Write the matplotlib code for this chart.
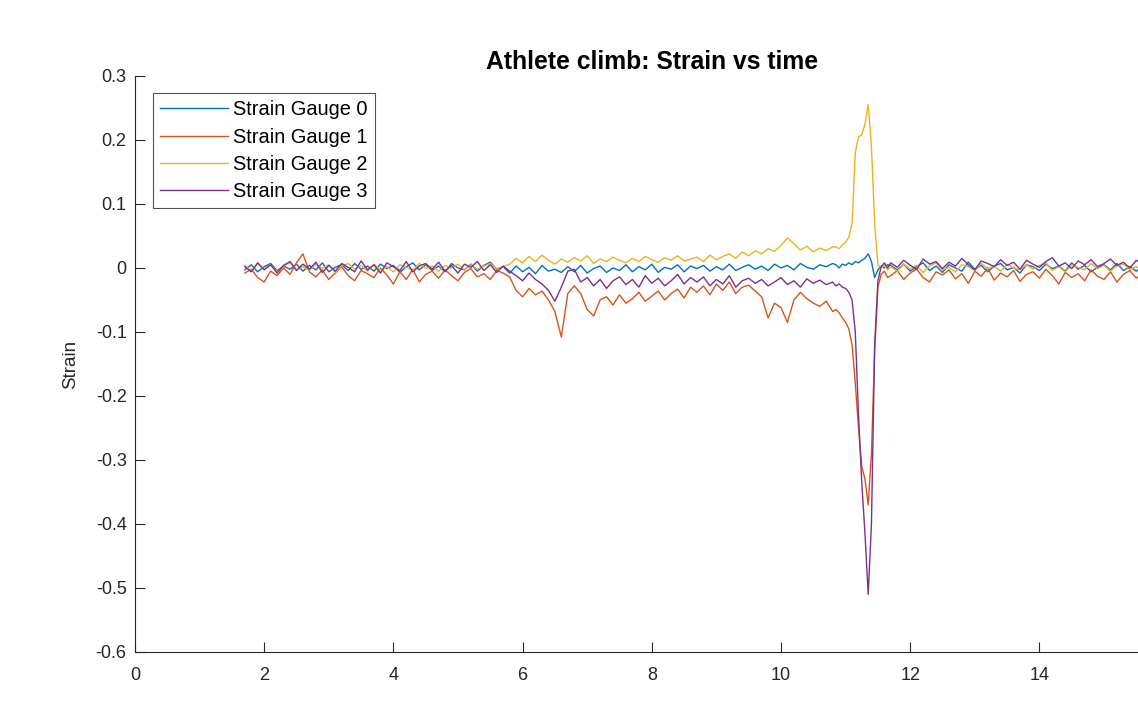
import numpy as np
import matplotlib.pyplot as plt

# time grid: 0.1 s steps, finer (0.05 s) around the big spike
t = np.concatenate([np.arange(17, 109) / 10,
                    np.arange(217, 234) / 20,
                    np.arange(117, 157) / 10])

# strain values, in units of 1e-3
gauge0 = [
    -3, 5, -6, 2, 7, -4, 3, -2, 6, -5,
    4, -3, 8, -6, 1, 5, -4, 7, -2, 3,
    -5, 6, -1, 4, -7, 2, 8, -3, 5, -4,
    3, -6, 7, 0, -3, 6, -5, 4, 9, -2,
    2, -8, 3, -6, 1, -9, 4, -5, -2, -7,
    2, -6, 4, -8, -1, 3, -7, 0, -4, 5,
    -6, 2, -3, 6, -7, 1, -2, 5, -6, 3,
    -1, 4, -5, 2, -3, 6, -4, 1, 5, -2,
    3, -4, 6, 0, 4, -3, 7, 1, -2, 5,
    2, 7,
    5, 0, 6, 4, 8, 5, 10, 8, 12, 15, 22, 10, -15, -3, 3, 0, 5,
    4, -3, 6, -5, 2, 8, -4, 3, -7, 5, 0, -5, 9, -2, 4, -6, 3, 7, -3, 1,
    -8, 5, 2, -4, 6, -1, 3, -5, 8, -2, 4, -6, 1, 5, -3, 7, -4, 2, -5, 3,
]
gauge1 = [
    -8, -2, -15, -22, -5, -12, 0, -10, 8, 22,
    -6, -14, -3, -18, -8, 2, -12, -20, -4, -9,
    -15, 0, -11, -25, -6, -18, -2, -22, -10, -5,
    -16, -3, -12, -20, -7, -1, -14, -9, -18, -4,
    -8, -14, -35, -45, -32, -42, -36, -50, -68, -108,
    -40, -28, -40, -65, -75, -50, -45, -58, -42, -55,
    -48, -38, -52, -44, -36, -50, -40, -33, -47, -30,
    -38, -28, -42, -25, -35, -22, -40, -30, -27, -36,
    -45, -78, -55, -62, -85, -50, -38, -48, -55, -60,
    -52, -68,
    -65, -70, -78, -85, -95, -120, -180, -250, -310, -330, -370, -290, -130, -30, -10, -5, -15,
    -12, -4, -18, -8, -2, -15, -22, -6, -11, -3, -17, -9, -24, -5, -13, 0, -19, -8, -14, -4,
    -21, -10, -6, -16, -2, -12, -25, -7, -15, -9, -20, -3, -13, -18, -6, -22, -10, -4, -16, -8,
]
gauge2 = [
    4, -5, 7, -2, 5, -6, 3, 8, -3, 2,
    -4, 6, -1, 5, -7, 3, 7, -2, 4, -5,
    6, -3, 2, -6, 5, 1, -4, 7, -1, 3,
    -5, 4, 0, 6, -3, 5, -2, 3, 7, -1,
    2, 6, 15, 8, 18, 10, 20, 12, 6, 14,
    9, 16, 11, 19, 7, 14, 10, 17, 12, 8,
    15, 10, 18, 13, 9, 16, 12, 19, 11, 14,
    17, 10, 20, 13, 18, 22, 15, 25, 19, 27,
    22, 30, 26, 35, 47, 38, 28, 34, 25, 31,
    27, 33,
    33, 30, 36, 40, 48, 70, 180, 205, 208, 225, 255, 190, 70, 5, 0, 5, -3,
    2, -5, 6, -2, 4, -7, 3, 8, -3, 1, -6, 5, 2, -4, 7, -1, 3, -5, 6, 0,
    -3, 5, -2, 4, 8, -4, 2, -6, 5, 1, -3, 7, -1, 4, -5, 3, 6, -2, 2, -4,
]
gauge3 = [
    2, -6, 8, -3, 5, -8, 4, 10, -4, 6,
    -2, 9, -7, 4, -5, 7, 1, -6, 11, -3,
    5, -8, 8, 2, -4, 10, -6, 3, 7, -2,
    9, -5, 4, -8, 6, 1, 10, -4, 5, -7,
    3, -5, -12, -20, -8, -18, -25, -35, -52, -30,
    -5, -2, -22, -15, -28, -18, -32, -20, -14, -26,
    -18, -30, -12, -24, -16, -28, -20, -10, -25, -15,
    -22, -14, -28, -18, -25, -12, -30, -20, -16, -24,
    -18, -28, -22, -15, -26, -20, -30, -17, -24, -19,
    -26, -22,
    -28, -25, -30, -32, -38, -50, -100, -230, -335, -415, -510, -400, -120, -20, 2, 8, 0,
    8, 1, 12, 4, -2, 14, 6, 10, -1, 9, 3, 15, 5, -3, 11, 7, 2, 13, 4, 9,
    -2, 12, 6, 1, 10, 16, 3, 8, -1, 11, 5, 13, 2, 7, 14, 4, 9, 0, 12, 6,
]
series = [gauge0, gauge1, gauge2, gauge3]
names = ['Strain Gauge 0', 'Strain Gauge 1', 'Strain Gauge 2', 'Strain Gauge 3']
colors = ['#0072BD', '#D95319', '#EDB120', '#7E2F8E']

yticks = [0.3, 0.2, 0.1, 0, -0.1, -0.2, -0.3, -0.4, -0.5, -0.6]
ylabels = ['0.3', '0.2', '0.1', '0', '-0.1', '-0.2', '-0.3', '-0.4', '-0.5', '-0.6']
xticks = [0, 2, 4, 6, 8, 10, 12, 14]

plt.rcParams['font.family'] = ['Liberation Sans', 'DejaVu Sans']
plt.rcParams['axes.unicode_minus'] = False

fig = plt.figure(figsize=(11.38, 7.04), dpi=100)
ax = fig.add_axes([0.1186, 0.0739, 0.9083, 0.8182])

for vals, name, c in zip(series, names, colors):
    ax.plot(t, np.array(vals) / 1000, color=c, lw=1.0, label=name)

ax.set_xlim(0, 16)
ax.set_ylim(-0.6, 0.3)
ax.set_xticks(xticks)
ax.set_yticks(yticks)
ax.set_yticklabels(ylabels)

axcol = '#262626'
for side in ['top', 'right']:
    ax.spines[side].set_visible(False)
for side in ['left', 'bottom']:
    ax.spines[side].set_color(axcol)
    ax.spines[side].set_linewidth(0.8)
ax.tick_params(direction='in', length=7.5, width=0.8, colors=axcol,
               labelsize=13)
ax.tick_params(axis='y', pad=6)
ax.tick_params(axis='x', pad=11)

ax.set_title('Athlete climb: Strain vs time', fontsize=17.8, fontweight='bold', pad=5)
ax.set_xlabel('Time (s)', fontsize=13.5, color=axcol, labelpad=17)
ax.set_ylabel('Strain', fontsize=13.5, color=axcol, labelpad=12)

leg = ax.legend(loc='upper left', bbox_to_anchor=(0.0175, 0.97), fontsize=14.4,
                frameon=True, fancybox=False, handlelength=3.4, handletextpad=0.25,
                borderpad=0.35, labelspacing=0.42, borderaxespad=0)
leg.get_frame().set_edgecolor(axcol)
leg.get_frame().set_linewidth(0.8)

fig.savefig('out.png', dpi=100)
